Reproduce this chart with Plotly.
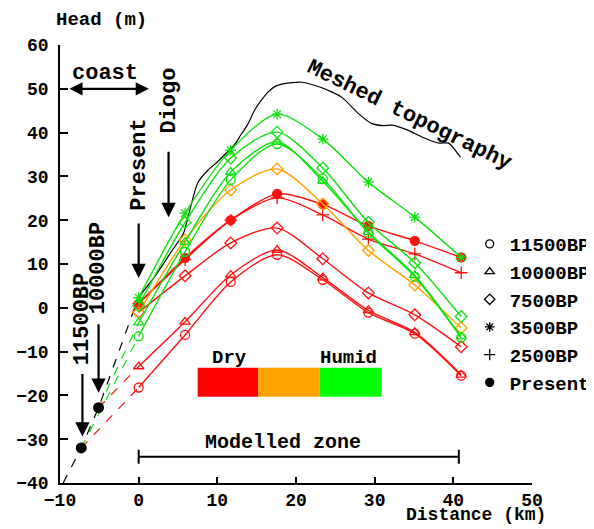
import plotly.graph_objects as go

# ---- data ----
dist_km = [0, 5.9, 11.7, 17.6, 23.4, 29.2, 35.1, 41.0]

red_11500 = [-18.2, -6.2, 5.9, 12.1, 6.4, -1.1, -5.9, -15.5]
red_10000 = [-13.4, -3.2, 7.5, 13.2, 6.9, -0.6, -5.6, -15.3]
red_7500 = [-1.0, 7.3, 14.8, 18.2, 11.2, 3.4, -1.6, -8.9]
red_2500 = [1.0, 11.0, 20.0, 25.1, 21.2, 15.7, 12.3, 8.0]
red_present = [0.9, 11.4, 20.0, 26.0, 23.6, 18.7, 15.3, 11.5]
orange_7500 = [-1.1, 15.5, 26.9, 31.7, 23.7, 13.1, 5.2, -4.6]
green_11500 = [-6.5, 12.8, 29.2, 37.4, 29.5, 17.1, 7.1, -6.8]
green_10000 = [-3.4, 15.0, 31.0, 37.9, 28.9, 17.3, 7.4, -6.6]
green_7500 = [0.5, 19.5, 34.2, 40.1, 31.9, 19.5, 10.3, -2.0]
green_3500 = [2.3, 21.6, 36.0, 44.2, 38.5, 28.7, 20.7, 11.5]

topo_x = [0, 2, 4.3, 5.7, 6.6, 7.5, 8.8, 10, 11.4, 12.1, 13, 13.9, 14.7, 15.6, 16.4,
          17.3, 18.5, 20.7, 23.2, 25.8, 27.9, 29.6, 31, 32.2, 34.3, 36, 38.2, 39.4, 40.9]
topo_y = [2.5, 7, 13.2, 17, 23, 28.5, 31.4, 33.3, 35.8, 37, 39.5, 42, 45, 47.4, 49.2,
          50.5, 51.2, 51.5, 50.3, 48.1, 44.4, 42.1, 41.6, 41.7, 40.5, 39, 37.6, 37.6, 34.4]

bathy_x = [-9.6, -7.3, -5.1, 0]
bathy_y = [-40, -32, -22.8, 2.5]

sea_x = [-7.3, -5.1]        # 11500BP, 10000BP coast positions
sea_y = [-32, -22.8]

legend_names = ["11500BP", "10000BP", "7500BP", "3500BP", "2500BP", "Present"]
legend_symbols = ["circle-open", "triangle-up-open", "diamond-open",
                  "asterisk-open", "cross-thin-open", "circle"]

bar_edges = [7.5, 15.2, 23.0, 30.9]
bar_colors = ["#ff0000", "#ffa500", "#00ff00"]
bar_y = [-20.3, -13.7]
model_zone = [0, 40.7]
model_zone_y = -34

RED, ORANGE, GREEN = "#ff1010", "#ffa000", "#10e010"
FONT = "Liberation Mono"

series = [
    (red_11500, RED, "circle-open", 0),
    (red_10000, RED, "triangle-up-open", 1),
    (red_7500, RED, "diamond-open", None),
    (red_2500, RED, "cross-thin-open", None),
    (red_present, RED, "circle", None),
    (orange_7500, ORANGE, "diamond-open", None),
    (green_11500, GREEN, "circle-open", 0),
    (green_10000, GREEN, "triangle-up-open", 1),
    (green_7500, GREEN, "diamond-open", None),
    (green_3500, GREEN, "asterisk-open", None),
]

fig = go.Figure()

# bathymetry (dashed) and topography
fig.add_trace(go.Scatter(x=bathy_x, y=bathy_y, mode="lines",
                         line=dict(color="black", width=1.2, dash="dash"), showlegend=False))
fig.add_trace(go.Scatter(x=topo_x, y=topo_y, mode="lines",
                         line=dict(color="black", width=1.2, shape="spline", smoothing=0.6),
                         showlegend=False))

# dashed extensions to ancient coast
for ys, col, sym, si in series:
    if si is not None:
        fig.add_trace(go.Scatter(x=[sea_x[si], dist_km[0]], y=[sea_y[si], ys[0]], mode="lines",
                                 line=dict(color=col, width=1.2, dash="dash"), showlegend=False))

for ys, col, sym, si in series:
    fig.add_trace(go.Scatter(
        x=dist_km, y=ys, mode="lines+markers",
        line=dict(color=col, width=1.4, shape="spline", smoothing=0.8),
        marker=dict(symbol=sym, size=9, color=col, line=dict(color=col, width=1.3)),
        showlegend=False))

fig.add_trace(go.Scatter(x=sea_x, y=sea_y, mode="markers",
                         marker=dict(color="black", size=11), showlegend=False))

# legend entries
for i, (nm, sym) in enumerate(zip(legend_names, legend_symbols)):
    fig.add_trace(go.Scatter(x=[None], y=[None], mode="markers", name=nm, legendgroup=nm,
                             marker=dict(symbol=sym, size=8, color="black",
                                         line=dict(color="black", width=1.3))))

# colour bar and modelled zone
for i, c in enumerate(bar_colors):
    fig.add_shape(type="rect", x0=bar_edges[i], x1=bar_edges[i + 1], y0=bar_y[0], y1=bar_y[1],
                  fillcolor=c, line=dict(width=0), layer="above")
fig.add_shape(type="line", x0=model_zone[0], x1=model_zone[1], y0=model_zone_y, y1=model_zone_y,
              line=dict(color="black", width=2))
for xz in model_zone:
    fig.add_shape(type="line", x0=xz, x1=xz, y0=model_zone_y - 1.6, y1=model_zone_y + 1.6,
                  line=dict(color="black", width=2))

def txt(x, y, s, size=22, angle=0, yanchor="middle", **kw):
    fig.add_annotation(x=x, y=y, text=s, showarrow=False, textangle=angle,
                       font=dict(family=FONT, size=size, color="black", weight="bold"),
                       xanchor="center", yanchor=yanchor, **kw)

def arrow(x, y, length):
    fig.add_annotation(x=x, y=y, ax=0, ay=-length, text="", showarrow=True,
                       arrowhead=2, arrowsize=1.3, arrowwidth=2.2, arrowcolor="black")

txt(-4.3, 53.5, "coast")
fig.add_annotation(x=1.3, y=50, ax=-9.0, ay=50, axref="x", ayref="y", text="", showarrow=True,
                   arrowhead=2, startarrowhead=2, arrowside="end+start", arrowsize=1.2,
                   startarrowsize=1.2, arrowwidth=2.2, arrowcolor="black")
txt(0, 32.6, "Present", angle=-90)
arrow(0, 6.8, 56)
txt(3.8, 47.2, "Diogo", angle=-90)
arrow(3.8, 20.7, 67)
txt(-5.0, 9.1, "10000BP", angle=-90)
arrow(-5.1, -19.4, 70)
txt(-7.15, -2.5, "11500BP", angle=-90)
arrow(-7.15, -29.4, 64)
txt(34.4, 43.9, "Meshed topography", angle=26)
txt(11.6, -11.5, "Dry", size=19)
txt(26.7, -11.5, "Humid", size=19)
txt(18.4, -30.8, "Modelled zone", size=20)
txt(0.0869, 1.057, "Head (m)", size=19, xref="paper", yref="paper")
txt(0.881, -0.100, "Distance (km)", size=18, yanchor="bottom", xref="paper", yref="paper")

axis_common = dict(showgrid=False, zeroline=False, showline=True, linecolor="black", linewidth=1.5,
                   ticks="inside", tickcolor="black", tickwidth=1.5,
                   tickfont=dict(family=FONT, size=18, color="black", weight="bold"))
fig.update_xaxes(range=[-10, 50], tickvals=[-10, 0, 10, 20, 30, 40, 50], ticklen=6, **axis_common)
fig.update_yaxes(range=[-40, 60], tickvals=list(range(-40, 61, 10)), ticklen=8,
                 ticklabelstandoff=6, **axis_common)

# page body has an 8px margin: figure is sized so the plot lands where the reference has it
fig.update_layout(
    width=586, height=521,
    margin=dict(l=52, r=62, t=37, b=46, autoexpand=False),
    paper_bgcolor="white", plot_bgcolor="white",
    font=dict(family=FONT, color="black", weight="bold"),
    legend=dict(x=0.868, y=0.589, xanchor="left", yanchor="top", bgcolor="rgba(0,0,0,0)",
                font=dict(family=FONT, size=19, color="black", weight="bold"),
                tracegroupgap=0, itemwidth=30),
)

fig.write_html("out.html")
